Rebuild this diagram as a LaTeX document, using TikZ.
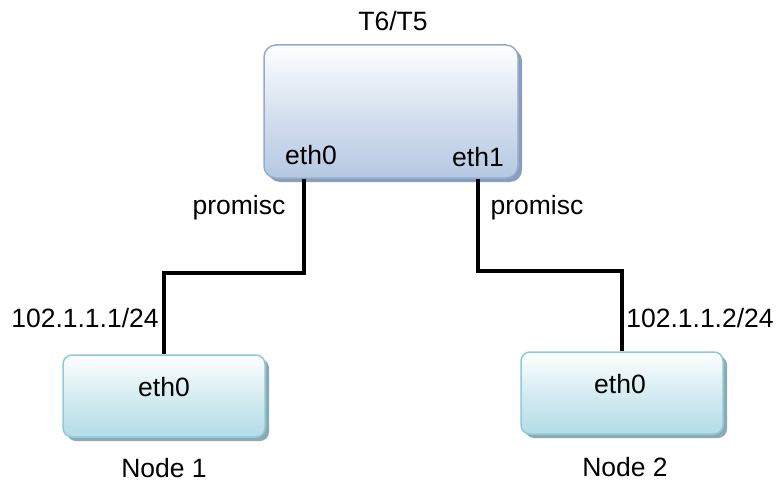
\documentclass[tikz,border=0pt]{standalone}
\usepackage{fontspec}
\setmainfont{Liberation Sans}
\usetikzlibrary{positioning,shadows}

\definecolor{hostline}{HTML}{93ABD0}
\definecolor{hostfill}{HTML}{B5C8E2}
\definecolor{hostshade}{HTML}{8C9DB8}
\definecolor{nodeline}{HTML}{8DCADB}
\definecolor{nodefill}{HTML}{B3DCE7}
\definecolor{nodeshade}{HTML}{8FA9AF}

\tikzset{
  hostbox/.style={draw=hostline, line width=1.5pt, rounded corners=12pt,
    top color=white, bottom color=hostfill, middle color=hostfill!55,
    drop shadow={shadow xshift=4pt, shadow yshift=-4pt, fill=hostshade, opacity=1},
    minimum width=254pt, minimum height=133pt},
  pcbox/.style={draw=nodeline, line width=1.5pt, rounded corners=9pt,
    top color=white, bottom color=nodefill, middle color=nodefill!55,
    drop shadow={shadow xshift=4pt, shadow yshift=-4pt, fill=nodeshade, opacity=1},
    minimum width=202pt, minimum height=82pt},
  wire/.style={line width=3.6pt},
  txt/.style={font=\fontsize{26.5}{31}\selectfont, inner sep=0pt}
}

\begin{document}
\begin{tikzpicture}[x=1pt, y=1pt]
    \useasboundingbox (0,0) rectangle (783,-489);

    % T6/T5 host
    \node[hostbox] (t6) at (391,-111.5) {};
    \node[txt] (t6name) at (393,-21) {T6/T5};
    \node[txt] (t6eth0) at (311,-155) {eth0};
    \node[txt] (t6eth1) at (478,-157) {eth1};

    % test nodes
    \node[pcbox] (n1) at (164,-396) {};
    \node[pcbox] (n2) at (622,-393) {};
    \node[txt] (n1eth0) at (164,-387) {eth0};
    \node[txt] (n2eth0) at (620,-384) {eth0};
    \node[txt] (n1name) at (164,-468) {Node 1};
    \node[txt] (n2name) at (625,-467) {Node 2};

    % links
    \draw[wire] ([xshift=-87pt]t6.south) -- ++(0,-94) -| (n1.north);
    \draw[wire] ([xshift=87pt]t6.south) -- ++(0,-92) -| (n2.north);

    % link labels
    \node[txt] (p0) at (239,-208) {promisc};
    \node[txt] (p1) at (537,-208) {promisc};
    \node[txt] (ip1) at (85,-318) {102.1.1.1/24};
    \node[txt] (ip2) at (700,-318) {102.1.1.2/24};
\end{tikzpicture}
\end{document}
